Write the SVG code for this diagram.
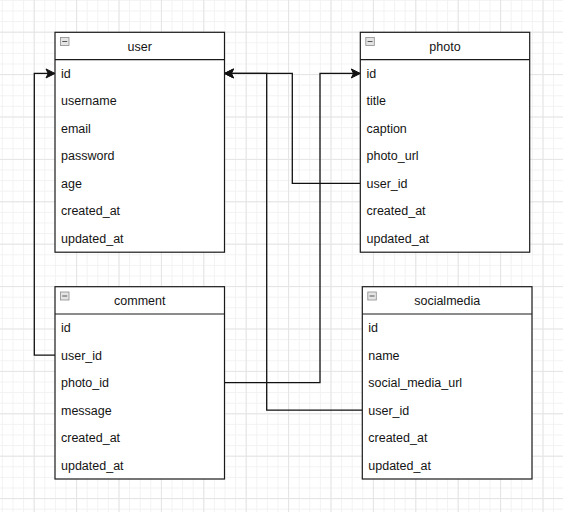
<svg xmlns="http://www.w3.org/2000/svg" width="563" height="512" viewBox="0 0 563 512">
<defs>
<pattern id="minor" patternUnits="userSpaceOnUse" x="33.7" y="31.7" width="10.6" height="10.6">
<path d="M0,0.5 H10.6 M0.5,0 V10.6" fill="none" stroke="#f2f2f2" stroke-width="1"/>
</pattern>
<pattern id="major" patternUnits="userSpaceOnUse" x="33.7" y="31.7" width="42.4" height="42.4">
<path d="M0,0.5 H42.4 M0.5,0 V42.4" fill="none" stroke="#e4e4e4" stroke-width="1"/>
</pattern>
<marker id="arr" markerUnits="userSpaceOnUse" markerWidth="12" markerHeight="12" viewBox="0 0 12 12" refX="10" refY="6" orient="auto">
<path d="M1,1.5 L10,6 L1,10.5 L3.2,6 Z" fill="#111" stroke="#111" stroke-width="1" stroke-linejoin="miter"/>
</marker>
<style>
.box{fill:#fff;stroke:#1a1a1a;stroke-width:1.2}
.hd{fill:none;stroke:#1a1a1a;stroke-width:1.2}
.t{font-family:"Liberation Sans",Arial,sans-serif;font-size:12.5px;fill:#141414}
.h{font-family:"Liberation Sans",Arial,sans-serif;font-size:12.5px;fill:#141414;text-anchor:middle}
.ic{fill:#e4e4e4;stroke:#8c8c8c;stroke-width:0.8}
.icl{stroke:#555;stroke-width:1}
.c{fill:none;stroke:#111;stroke-width:1.3}
</style>
</defs>
<rect width="563" height="512" fill="#fff"/>
<rect width="563" height="512" fill="url(#minor)"/>
<rect width="563" height="512" fill="url(#major)"/>

<g id="connectors">
<path class="c" d="M55,355.2 H34.3 V73.45 H55" marker-end="url(#arr)"/>
<path class="c" d="M360.3,183.45 H292.3 V73.45 H224.5" marker-end="url(#arr)"/>
<path class="c" d="M362.3,410.2 H266.7 V73.45 H224.5" marker-end="url(#arr)"/>
<path class="c" d="M224.5,382.7 H320 V73.45 H360.3" marker-end="url(#arr)"/>
</g>

<g id="user">
<rect class="box" x="55" y="32.3" width="169.5" height="219.9"/>
<line class="hd" x1="55" y1="59.7" x2="224.5" y2="59.7"/>
<rect class="ic" x="60.5" y="37.5" width="8.5" height="8"/>
<line class="icl" x1="62.3" y1="41.5" x2="67.2" y2="41.5"/>
<text class="h" x="139.75" y="50.5">user</text>
<text class="t" x="61" y="77.9">id</text>
<text class="t" x="61" y="105.4">username</text>
<text class="t" x="61" y="132.9">email</text>
<text class="t" x="61" y="160.4">password</text>
<text class="t" x="61" y="187.9">age</text>
<text class="t" x="61" y="215.4">created_at</text>
<text class="t" x="61" y="242.9">updated_at</text>
</g>

<g id="photo">
<rect class="box" x="360.3" y="32.3" width="169.4" height="219.9"/>
<line class="hd" x1="360.3" y1="59.7" x2="529.7" y2="59.7"/>
<rect class="ic" x="365.8" y="37.5" width="8.5" height="8"/>
<line class="icl" x1="367.6" y1="41.5" x2="372.5" y2="41.5"/>
<text class="h" x="445" y="50.5">photo</text>
<text class="t" x="366.5" y="77.9">id</text>
<text class="t" x="366.5" y="105.4">title</text>
<text class="t" x="366.5" y="132.9">caption</text>
<text class="t" x="366.5" y="160.4">photo_url</text>
<text class="t" x="366.5" y="187.9">user_id</text>
<text class="t" x="366.5" y="215.4">created_at</text>
<text class="t" x="366.5" y="242.9">updated_at</text>
</g>

<g id="comment">
<rect class="box" x="55" y="286.7" width="169.5" height="192.3"/>
<line class="hd" x1="55" y1="314" x2="224.5" y2="314"/>
<rect class="ic" x="60.5" y="292" width="8.5" height="8"/>
<line class="icl" x1="62.3" y1="296" x2="67.2" y2="296"/>
<text class="h" x="139.75" y="304.8">comment</text>
<text class="t" x="61" y="332.1">id</text>
<text class="t" x="61" y="359.6">user_id</text>
<text class="t" x="61" y="387.1">photo_id</text>
<text class="t" x="61" y="414.6">message</text>
<text class="t" x="61" y="442.1">created_at</text>
<text class="t" x="61" y="469.6">updated_at</text>
</g>

<g id="socialmedia">
<rect class="box" x="362.3" y="286.7" width="169.7" height="192.3"/>
<line class="hd" x1="362.3" y1="314" x2="532" y2="314"/>
<rect class="ic" x="367.8" y="292" width="8.5" height="8"/>
<line class="icl" x1="369.6" y1="296" x2="374.5" y2="296"/>
<text class="h" x="447.2" y="304.8">socialmedia</text>
<text class="t" x="368.3" y="332.1">id</text>
<text class="t" x="368.3" y="359.6">name</text>
<text class="t" x="368.3" y="387.1">social_media_url</text>
<text class="t" x="368.3" y="414.6">user_id</text>
<text class="t" x="368.3" y="442.1">created_at</text>
<text class="t" x="368.3" y="469.6">updated_at</text>
</g>
</svg>
